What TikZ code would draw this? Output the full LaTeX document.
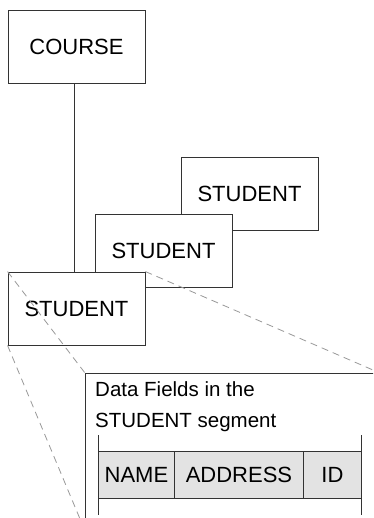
\documentclass[tikz,border=0pt]{standalone}
\usepackage{fontspec}
\setmainfont{Liberation Sans}
\begin{document}
\begin{tikzpicture}[x=1pt,y=-1pt,
  seg/.style={draw=black!80, line width=0.9pt, fill=white, minimum width=137pt, minimum height=73pt, inner sep=0pt, font=\fontsize{22}{24}\selectfont},
  zoomline/.style={draw=black!40, line width=0.8pt, dash pattern=on 7pt off 5pt},
  cell/.style={draw=black!80, line width=0.9pt, fill=black!11, minimum height=47pt, inner sep=0pt, anchor=north west, font=\fontsize{22}{24}\selectfont},
  dlabel/.style={anchor=base west, inner sep=0pt, font=\fontsize{20.5}{24}\selectfont},
  edge/.style={draw=black!80, line width=0.9pt}]
\clip (0,0) rectangle (373,518);
\fill[white] (0,0) rectangle (373,518);
% data box
\node[draw=black!80, line width=0.9pt, minimum width=294pt, minimum height=157pt, inner sep=0pt, anchor=north west] (databox) at (85,373) {};
\node[dlabel] (dtext1) at (95,396) {Data Fields in the};
\node[dlabel] (dtext2) at (95,427) {STUDENT segment};
% table
\node[cell, minimum width=76pt] (name) at (98,451) {NAME};
\node[cell, minimum width=129pt] (addr) at (174,451) {ADDRESS};
\node[cell, minimum width=58pt] (id) at (303,451) {ID};
\coordinate (lt) at (98,435);
\coordinate (lb) at (98,515);
\coordinate (rt) at (361,435);
\coordinate (rb) at (361,515);
\draw[edge] (lt) -- (lb);
\draw[edge] (rt) -- (rb);
% segments
\node[seg] (course) at (76.5,46.5) {COURSE};
\node[seg] (s3) at (249.5,193.5) {STUDENT};
\node[seg] (s2) at (163.5,251) {STUDENT};
\node[seg] (s1) at (76.5,308.5) {STUDENT};
\draw[edge] ([xshift=-2.5pt]course.south) -- ([xshift=-2.5pt]s1.north);
% zoom lines
\draw[zoomline] (s1.north west) -- (databox.north west);
\draw[zoomline] (s1.south west) -- (databox.south west);
\draw[zoomline] (s1.north east) -- (databox.north east);
\end{tikzpicture}
\end{document}
